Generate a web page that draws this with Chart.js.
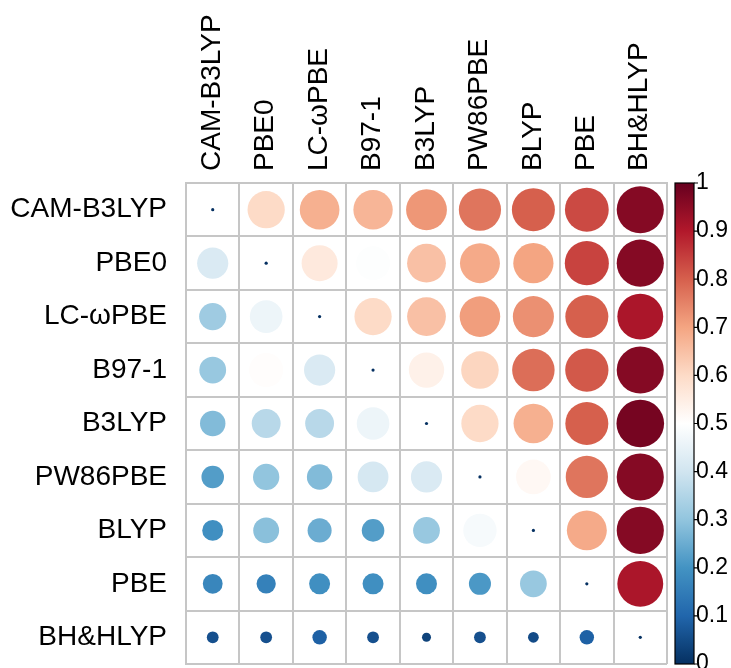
<!DOCTYPE html>
<html>
<head>
<meta charset="utf-8">
<script src="https://cdn.jsdelivr.net/npm/chart.js@4"></script>
<style>
  html, body { margin: 0; padding: 0; background: #fff; }
</style>
</head>
<body>
<canvas id="chart" width="731" height="668"></canvas>
<script>
// functionals, same order on both axes
const methods = ['CAM-B3LYP', 'PBE0', 'LC-ωPBE', 'B97-1', 'B3LYP', 'PW86PBE', 'BLYP', 'PBE', 'BH&HLYP'];

// one row of the matrix per functional
const camB3lypRow = [0, 0.60, 0.68, 0.67, 0.72, 0.77, 0.80, 0.83, 0.96];
const pbe0Row     = [0.42, 0, 0.56, 0.495, 0.65, 0.69, 0.70, 0.84, 0.96];
const lcwpbeRow   = [0.32, 0.46, 0, 0.60, 0.65, 0.71, 0.73, 0.80, 0.91];
const b971Row     = [0.31, 0.505, 0.42, 0, 0.54, 0.61, 0.78, 0.81, 0.96];
const b3lypRow    = [0.28, 0.36, 0.36, 0.46, 0, 0.60, 0.68, 0.80, 0.98];
const pw86pbeRow  = [0.22, 0.30, 0.28, 0.41, 0.42, 0, 0.52, 0.77, 0.96];
const blypRow     = [0.19, 0.29, 0.25, 0.22, 0.31, 0.48, 0, 0.69, 0.96];
const pbeRow      = [0.17, 0.16, 0.19, 0.19, 0.19, 0.21, 0.31, 0, 0.91];
const bhhlypRow   = [0.06, 0.06, 0.09, 0.06, 0.035, 0.06, 0.05, 0.09, 0];

const rows = [camB3lypRow, pbe0Row, lcwpbeRow, b971Row, b3lypRow, pw86pbeRow, blypRow, pbeRow, bhhlypRow];

// colour bar ticks
const barTickValues = [0, 0.1, 0.2, 0.3, 0.4, 0.5, 0.6, 0.7, 0.8, 0.9, 1];
const barTickLabels = ['0', '0.1', '0.2', '0.3', '0.4', '0.5', '0.6', '0.7', '0.8', '0.9', '1'];

// RdBu, low -> high
const rdbu = ['#053061', '#2166AC', '#4393C3', '#92C5DE', '#D1E5F0', '#FFFFFF',
              '#FDDBC7', '#F4A582', '#D6604D', '#B2182B', '#67001F'];

const fontFamily = "'Liberation Sans', Arial, Helvetica, sans-serif";
const labelFont = { family: fontFamily, size: 28 };
const gridColor = '#c6c6c6';

function hexToRgb(h) {
    const n = parseInt(h.slice(1), 16);
    return [(n >> 16) & 255, (n >> 8) & 255, n & 255];
}

function colorFor(v) {
    const t = Math.min(1, Math.max(0, v)) * (rdbu.length - 1);
    const i = Math.min(rdbu.length - 2, Math.floor(t));
    const f = t - i;
    const a = hexToRgb(rdbu[i]), b = hexToRgb(rdbu[i + 1]);
    const c = a.map((x, k) => Math.round(x + (b[k] - x) * f));
    return `rgb(${c[0]}, ${c[1]}, ${c[2]})`;
}

const points = [];
rows.forEach((row, r) => {
    row.forEach((v, c) => {
        points.push({ x: methods[c], y: methods[r], v: v });
    });
});

function cellRadius(ctx) {
    const v = ctx.raw ? ctx.raw.v : 0;
    const cell = ctx.chart.scales.x.width / methods.length;
    return Math.max(1.6, 0.45 * cell * Math.sqrt(v));
}

// no extra layout padding from the axes, sizes are fixed below
function noPadding(s) {
    s.paddingTop = 0;
    s.paddingBottom = 0;
    s.paddingLeft = 0;
    s.paddingRight = 0;
}

// draws the gradient bar next to the 'cb' axis
const colorbarPlugin = {
    id: 'colorbar',
    afterDraw(chart) {
        const s = chart.scales.cb;
        const ctx = chart.ctx;
        const x0 = s.left + 8;
        const w = 19;
        const top = s.getPixelForValue(1);
        const bottom = s.getPixelForValue(0);
        const g = ctx.createLinearGradient(0, bottom, 0, top);
        rdbu.forEach((c, i) => g.addColorStop(i / (rdbu.length - 1), c));
        ctx.save();
        ctx.fillStyle = g;
        ctx.fillRect(x0, top, w, bottom - top);
        ctx.strokeStyle = '#000';
        ctx.lineWidth = 1.2;
        ctx.strokeRect(x0, top, w, bottom - top);
        ctx.beginPath();
        s.ticks.forEach(t => {
            const y = s.getPixelForValue(t.value);
            ctx.moveTo(x0 + w, y);
            ctx.lineTo(x0 + w + 4, y);
        });
        ctx.stroke();
        ctx.restore();
    }
};

const chart = new Chart(document.getElementById('chart'), {
    type: 'scatter',
    data: {
        datasets: [{
            data: points,
            pointRadius: cellRadius,
            pointHoverRadius: cellRadius,
            pointBackgroundColor: ctx => colorFor(ctx.raw ? ctx.raw.v : 0),
            pointBorderWidth: 0,
            pointHoverBorderWidth: 0,
        }]
    },
    options: {
        responsive: false,
        animation: false,
        layout: { padding: { top: 0, left: 0, right: 0, bottom: 4 } },
        plugins: {
            legend: { display: false },
            tooltip: { enabled: false },
        },
        scales: {
            x: {
                type: 'category',
                labels: methods,
                position: 'top',
                offset: true,
                grid: { offset: true, color: gridColor, lineWidth: 2, drawTicks: false },
                border: { color: gridColor, width: 2 },
                ticks: {
                    font: labelFont,
                    color: '#000',
                    minRotation: 90,
                    maxRotation: 90,
                    autoSkip: false,
                    padding: 12,
                    labelOffset: 33,
                },
                afterFit: s => { s.height = 183; noPadding(s); },
            },
            y: {
                type: 'category',
                labels: methods,
                position: 'left',
                offset: true,
                grid: { offset: true, color: gridColor, lineWidth: 2, drawTicks: false },
                border: { color: gridColor, width: 2 },
                ticks: {
                    font: labelFont,
                    color: '#000',
                    autoSkip: false,
                    padding: 19,
                },
                afterFit: s => { s.width = 186; noPadding(s); },
            },
            cb: {
                type: 'linear',
                position: 'right',
                min: 0,
                max: 1,
                afterBuildTicks: s => { s.ticks = barTickValues.map(v => ({ value: v })); },
                grid: { drawOnChartArea: false, drawTicks: false },
                border: { display: false },
                ticks: {
                    font: { family: fontFamily, size: 23 },
                    color: '#000',
                    padding: 29,
                    callback: (v, i) => barTickLabels[i],
                },
                afterFit: s => { s.width = 64; noPadding(s); },
            }
        }
    },
    plugins: [colorbarPlugin]
});
</script>
</body>
</html>
